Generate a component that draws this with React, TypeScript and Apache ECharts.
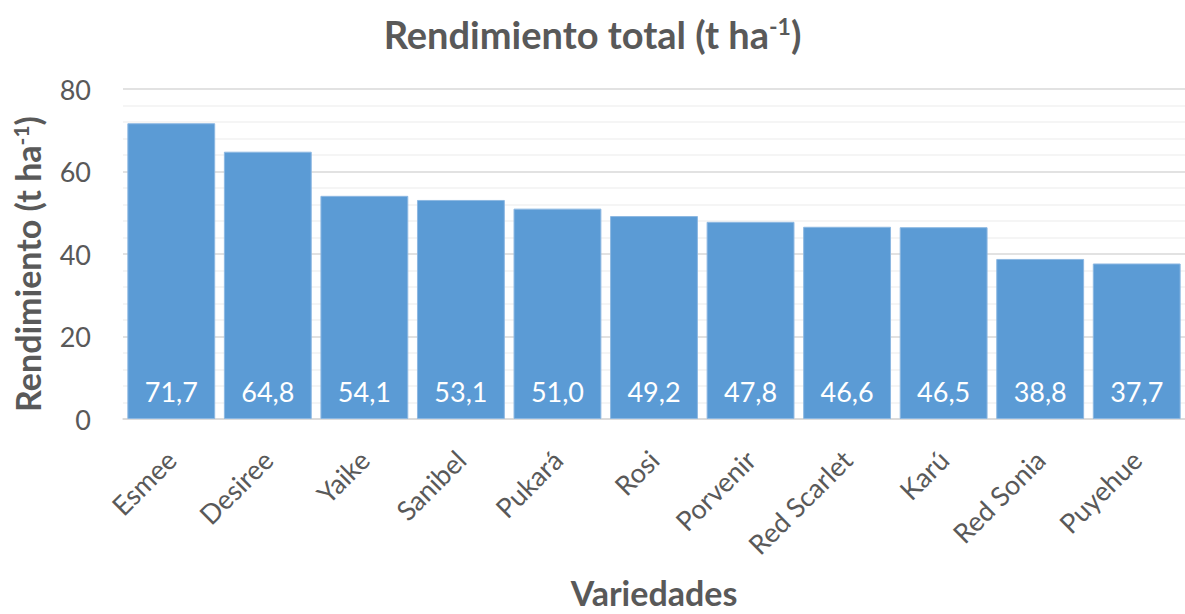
import React, { useEffect, useRef } from "react";
import * as echarts from "echarts";

const categories = ["Esmee", "Desiree", "Yaike", "Sanibel", "Pukará", "Rosi", "Porvenir", "Red Scarlet", "Karú", "Red Sonia", "Puyehue"];
const values = [71.7, 64.8, 54.1, 53.1, 51.0, 49.2, 47.8, 46.6, 46.5, 38.8, 37.7];
const yTicks = { min: 0, max: 80, interval: 20 };

const FONT = "Lato, 'Open Sans', sans-serif";
const GREY = "#595959";

export default function App() {
  const ref = useRef<HTMLDivElement>(null);
  useEffect(() => {
    document.body.style.margin = "0";
    const chart = echarts.init(ref.current!, null, { renderer: "svg" });
    chart.setOption({
      animation: false,
      textStyle: { fontFamily: FONT },
      title: {
        text: "Rendimiento total (t ha{sup|-1})",
        left: "center",
        top: 9,
        textStyle: {
          fontFamily: FONT,
          fontSize: 38,
          fontWeight: "bold",
          color: GREY,
          rich: {
            sup: { fontSize: 23, fontWeight: "bold", color: GREY, verticalAlign: "top", padding: [0, 0, 16, 0] },
          },
        },
      },
      grid: { left: 123, right: 0, top: 89, bottom: 192, containLabel: false },
      xAxis: {
        type: "category",
        data: categories,
        axisTick: { show: false },
        axisLine: { lineStyle: { color: "#d9d9d9", width: 1.5 } },
        axisLabel: { rotate: 45, fontSize: 27, color: GREY, margin: 36, fontFamily: FONT, interval: 0 },
        name: "Variedades",
        nameLocation: "middle",
        nameGap: 156,
        nameTextStyle: { fontSize: 34, fontWeight: "bold", color: GREY, fontFamily: FONT },
      },
      yAxis: {
        type: "value",
        min: yTicks.min,
        max: yTicks.max,
        interval: yTicks.interval,
        axisLine: { show: false },
        axisTick: { show: false },
        axisLabel: { fontSize: 27, color: GREY, margin: 32, fontFamily: FONT },
        splitLine: { lineStyle: { color: "#d9d9d9", width: 1.5 } },
        minorTick: { show: false, splitNumber: 5 },
        minorSplitLine: { show: true, lineStyle: { color: "#f2f2f2", width: 1.5 } },
        name: "Rendimiento (t ha{sup|-1})",
        nameLocation: "middle",
        nameRotate: 90,
        nameGap: 78,
        nameTextStyle: {
          fontSize: 34,
          fontWeight: "bold",
          color: GREY,
          fontFamily: FONT,
          padding: [0, 20, 0, 0],
          rich: {
            sup: { fontSize: 21, fontWeight: "bold", color: GREY, verticalAlign: "top", padding: [0, 0, 14, 0] },
          },
        },
      },
      series: [
        {
          type: "bar",
          data: values,
          barCategoryGap: "9%",
          itemStyle: { color: "#5B9BD5", borderColor: "#8DB8E2", borderWidth: 1 },
          label: {
            show: true,
            position: "insideBottom",
            distance: 14,
            color: "#ffffff",
            fontSize: 27,
            fontFamily: FONT,
            formatter: (p: any) => Number(p.value).toFixed(1).replace(".", ","),
          },
        },
      ],
    });
    return () => chart.dispose();
  }, []);
  return <div ref={ref} style={{ width: 1185, height: 614 }} />;
}
